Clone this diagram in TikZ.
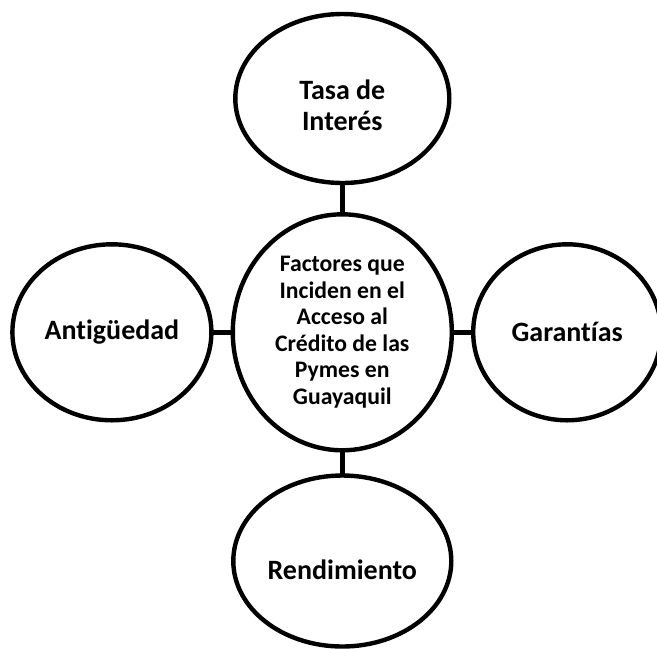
\documentclass[tikz,border=0pt]{standalone}
\usepackage{fontspec}
\setmainfont{Carlito}[RawFeature=-liga]
\usetikzlibrary{shapes.geometric}

\tikzstyle{factor} = [ellipse,anchor=center,line width=2.2pt,draw=black,inner sep=0pt,align=center,font=\fontsize{14}{15.7}\selectfont\bfseries]
\tikzstyle{core} = [factor,font=\fontsize{11.85}{13.25}\selectfont\bfseries]

\begin{document}
\begin{tikzpicture}

	\useasboundingbox (-5.1pt,5.9pt) rectangle (323.4pt,-318.1pt);

	\matrix[anchor=north west,inner sep=0pt,outer sep=0pt,row sep=10.4pt,column sep=8.5pt] at (0,0) {
		&
		\node (tasa) [factor,minimum width=107pt,minimum height=84.5pt,text height=32pt,text depth=0pt]{Tasa de\\Interés}; &
		\\[3.05pt]
		\node (antig) [factor,minimum width=99.5pt,minimum height=88pt]{Antigüedad}; &
		\node (centro) [core,minimum width=109.5pt,minimum height=118pt]{Factores que\\Inciden en el\\Acceso al\\Crédito de las\\Pymes en\\Guayaquil}; &[1.9pt]
		\node (garant) [factor,minimum width=94pt,minimum height=88pt]{Garantías}; \\
		&
		\node (rend) [factor,minimum width=109pt,minimum height=85.5pt,text height=18pt,text depth=0pt]{Rendimiento}; &
		\\
	};

	\path
		(tasa) edge[line width=2.2pt] (centro)
		(antig) edge[line width=2.2pt] (centro)
		(centro) edge[line width=2.2pt] (garant)
		(centro) edge[line width=2.2pt] (rend)
		;

\end{tikzpicture}
\end{document}
